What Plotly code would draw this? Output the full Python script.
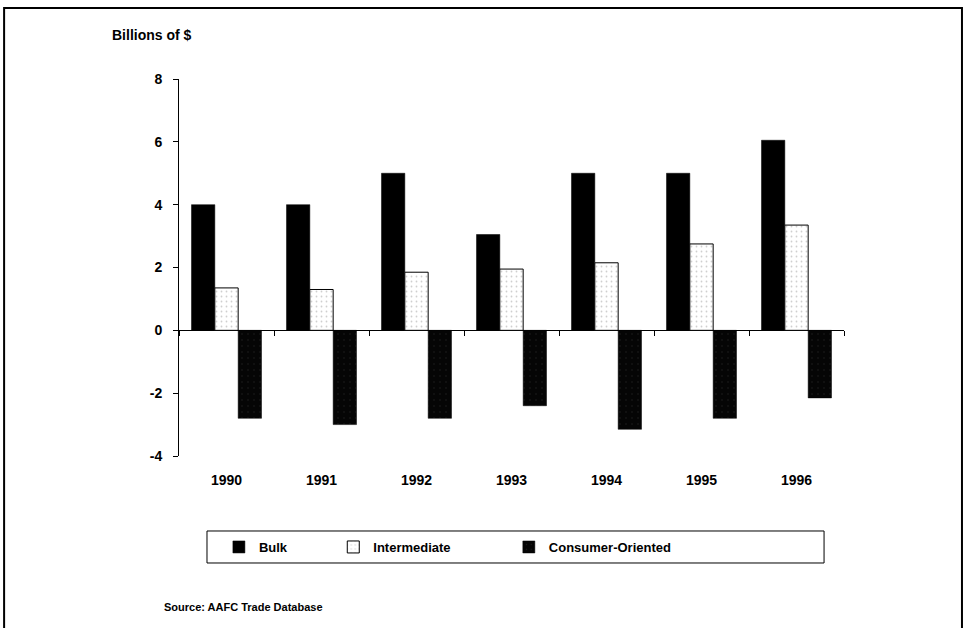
import plotly.graph_objects as go

years = ["1990", "1991", "1992", "1993", "1994", "1995", "1996"]
bulk = [4.0, 4.0, 5.0, 3.05, 5.0, 5.0, 6.05]
intermediate = [1.35, 1.3, 1.85, 1.95, 2.15, 2.75, 3.35]
consumer = [-2.8, -3.0, -2.8, -2.4, -3.15, -2.8, -2.15]
y_ticks = [-4, -2, 0, 2, 4, 6, 8]
y_tick_labels = ["-4", "-2", "0", "2", "4", "6", "8"]

FONT = "Liberation Sans, Arial, sans-serif"

fig = go.Figure()
fig.add_trace(go.Bar(
    x=years, y=bulk, name="Bulk", legend="legend",
    marker=dict(color="#000000", line=dict(color="#000000", width=0.5)),
))
fig.add_trace(go.Bar(
    x=years, y=intermediate, name="Intermediate", legend="legend2",
    marker=dict(color="#ffffff", line=dict(color="#000000", width=1),
                pattern=dict(shape=".", bgcolor="#ffffff", fgcolor="#a0a0a0",
                             size=5, solidity=0.1)),
))
fig.add_trace(go.Bar(
    x=years, y=consumer, name="Consumer-Oriented", legend="legend3",
    marker=dict(color="#000000", line=dict(color="#000000", width=0.5),
                pattern=dict(shape=".", bgcolor="#050505", fgcolor="#333333",
                             size=6, solidity=0.06)),
))
# invisible helper trace for the zero-level category tick axis
fig.add_trace(go.Scatter(
    x=years, y=[0] * len(years), xaxis="x2", mode="markers",
    marker=dict(opacity=0), showlegend=False, hoverinfo="skip",
))

legend_common = dict(
    orientation="h", xanchor="left", yanchor="middle",
    bgcolor="rgba(0,0,0,0)", borderwidth=0,
    font=dict(family=FONT, size=13, color="#000", weight="bold"),
)

fig.update_layout(
    width=965, height=628,
    margin=dict(l=179, r=121, t=79, b=172),
    paper_bgcolor="#ffffff", plot_bgcolor="#ffffff",
    barmode="group", bargap=0.263, bargroupgap=0,
    font=dict(family=FONT, color="#000"),
    xaxis=dict(
        type="category", range=[-0.5, 6.5], showgrid=False, zeroline=False,
        showline=False, ticks="",
        tickfont=dict(family=FONT, size=14, color="#000", weight="bold"),
        ticklabelstandoff=14,
    ),
    xaxis2=dict(
        type="category", range=[-0.5, 6.5], overlaying="x", anchor="free",
        position=1 / 3, showgrid=False, zeroline=False, showline=False,
        ticks="outside", tickson="boundaries", ticklen=5, tickcolor="#000",
        tickwidth=1, showticklabels=False,
    ),
    yaxis=dict(
        range=[-4, 8], tickvals=y_ticks, ticktext=y_tick_labels, showgrid=False,
        zeroline=True, zerolinecolor="#000", zerolinewidth=1,
        showline=True, linecolor="#000", linewidth=1,
        ticks="outside", ticklen=5, tickcolor="#000",
        tickfont=dict(family=FONT, size=14, color="#000", weight="bold"),
        ticklabelstandoff=8,
    ),
    legend=dict(x=0.060, y=-0.2414, **legend_common),
    legend2=dict(x=0.232, y=-0.2414, **legend_common),
    legend3=dict(x=0.496, y=-0.2414, **legend_common),
    showlegend=True,
    shapes=[
        dict(type="rect", xref="paper", yref="paper",
             x0=0.0421, x1=0.970, y0=-0.2838, y1=-0.1989,
             line=dict(color="#000", width=1), fillcolor="rgba(0,0,0,0)"),
        dict(type="rect", xref="paper", yref="paper",
             x0=-0.263, x1=1.1774, y0=-0.52, y1=1.188,
             line=dict(color="#000", width=2), fillcolor="rgba(0,0,0,0)"),
    ],
    annotations=[
        dict(text="Billions of $", xref="paper", yref="paper",
             x=-0.1038, y=1.1167, xanchor="left", yanchor="middle",
             showarrow=False,
             font=dict(family=FONT, size=14, color="#000", weight="bold")),
        dict(text="Source: AAFC Trade Database", xref="paper", yref="paper",
             x=-0.0256, y=-0.4005, xanchor="left", yanchor="middle",
             showarrow=False,
             font=dict(family=FONT, size=11, color="#000", weight="bold")),
    ],
)

fig.write_html("out.html", config={"displayModeBar": False},
               post_script="document.body.style.margin='0px';")
